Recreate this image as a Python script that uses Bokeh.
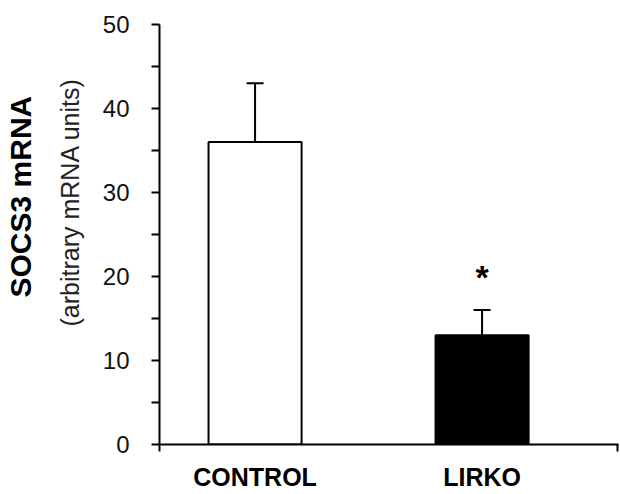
from bokeh.plotting import figure
from bokeh.models import ColumnDataSource, Range1d, FixedTicker, Whisker, TeeHead, Title
from bokeh.core.properties import value
from bokeh.embed import file_html
from bokeh.resources import INLINE

# ---- data ----
categories = ["CONTROL", "LIRKO"]
means = [36, 13]
errors = [7, 3]
significance = ["", "*"]
fill_colors = ["white", "black"]
y_ticks = [0, 10, 20, 30, 40, 50]
y_minor_ticks = [5, 15, 25, 35, 45]
y_title = "SOCS3 mRNA"
y_subtitle = "(arbitrary mRNA units)"

FONT = "Liberation Sans"
x_pos = list(range(len(categories)))
upper = [m + e for m, e in zip(means, errors)]

src = ColumnDataSource(dict(x=x_pos, top=means, upper=upper, fill=fill_colors, mark=significance))

x_start, x_end = -0.421, 1.601
p = figure(width=620, height=494, output_backend="svg", toolbar_location=None,
           x_range=Range1d(x_start, x_end), y_range=Range1d(0, 50),
           min_border_left=157, min_border_right=2, min_border_top=24, min_border_bottom=50)
p.outline_line_color = None
p.xgrid.visible = False
p.ygrid.visible = False
p.background_fill_color = "white"

p.vbar(x="x", top="top", bottom=0, width=0.41, source=src, fill_color="fill",
       line_color="black", line_width=2)

w = Whisker(base="x", upper="upper", lower="top", source=src, line_color="black", line_width=2,
            upper_head=TeeHead(size=17, line_color="black", line_width=2), lower_head=None)
p.add_layout(w)

p.text(x="x", y="upper", text="mark", source=src, text_font=value(FONT), text_font_style="bold",
       text_font_size="34px", text_align="center", text_baseline="alphabetic", y_offset=-33,
       text_color="black")

# y axis
ya = p.yaxis[0]
ya.ticker = FixedTicker(ticks=y_ticks, minor_ticks=y_minor_ticks)
ya.axis_line_width = 2
ya.axis_line_color = "black"
ya.major_tick_line_width = 2
ya.minor_tick_line_width = 2
ya.major_tick_out = 8
ya.major_tick_in = 0
ya.minor_tick_out = 8
ya.minor_tick_in = 0
ya.major_label_text_font = FONT
ya.major_label_text_font_size = "24px"
ya.major_label_text_color = "#111111"
ya.major_label_standoff = 22

# x axis
xa = p.xaxis[0]
xa.ticker = FixedTicker(ticks=x_pos, minor_ticks=[x_start + 0.002, x_end - 0.004])
xa.major_label_overrides = {i: c for i, c in enumerate(categories)}
xa.axis_line_width = 2
xa.axis_line_color = "black"
xa.major_tick_line_color = None
xa.major_tick_out = 0
xa.major_tick_in = 0
xa.minor_tick_out = 7
xa.minor_tick_in = 0
xa.minor_tick_line_width = 2
xa.major_label_text_font = FONT
xa.major_label_text_font_style = "bold"
xa.major_label_text_font_size = "25px"
xa.major_label_text_color = "black"
xa.major_label_standoff = 11

# axis titles (two lines, anchored from the bottom like the reference)
p.add_layout(Title(text=y_subtitle, align="left", offset=118, text_font=FONT,
                   text_font_style="normal", text_font_size="25px", text_color="#222222",
                   standoff=32), "left")
p.add_layout(Title(text=y_title, align="left", offset=147, text_font=FONT,
                   text_font_style="bold", text_font_size="30px", text_color="black",
                   standoff=2), "left")

open("out.html", "w").write(file_html(p, INLINE))
